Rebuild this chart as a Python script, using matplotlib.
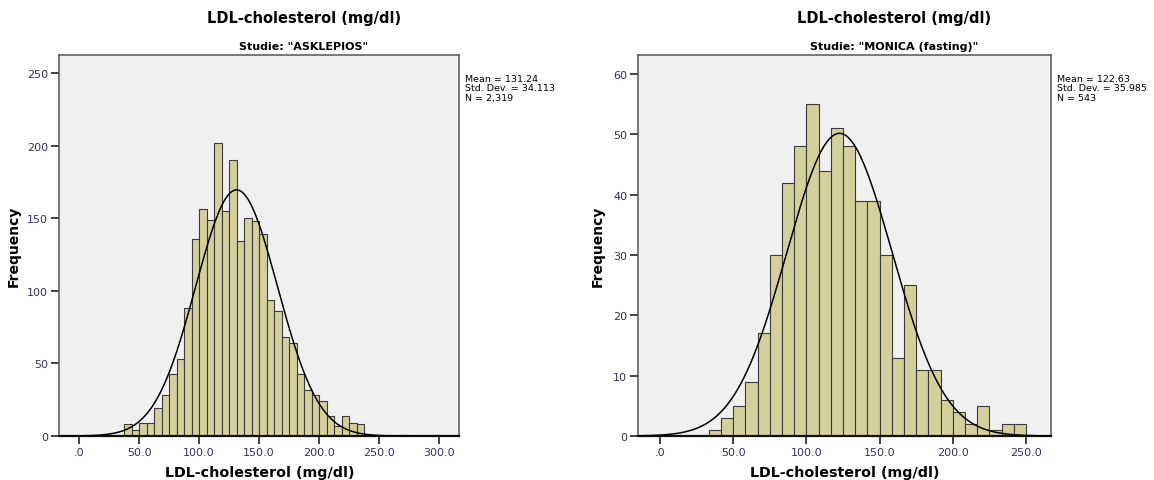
import numpy as np
import matplotlib
matplotlib.use("Agg")
import matplotlib.pyplot as plt

# ASKLEPIOS study
ask_start = 37.5
ask_width = 6.25
ask_counts = [8, 4, 9, 9, 19, 28, 43, 53, 88, 136, 156, 149, 202, 155, 190, 134,
              150, 148, 139, 94, 86, 68, 64, 43, 32, 28, 24, 14, 7, 14, 9, 8,
              0, 0, 0, 1, 0, 1, 0, 0, 0, 1]
ask_mean, ask_sd, ask_n = 131.24, 34.113, 2319

# MONICA (fasting) study
mon_start = 100 / 3
mon_width = 25 / 3
mon_counts = [1, 3, 5, 9, 17, 30, 42, 48, 55, 44, 51, 48, 39, 39, 30, 13,
              25, 11, 11, 6, 4, 2, 5, 1, 2, 2]
mon_mean, mon_sd, mon_n = 122.63, 35.985, 543

ask_xticks = [0, 50, 100, 150, 200, 250, 300]
mon_xticks = [0, 50, 100, 150, 200, 250]
ask_yticks = [0, 50, 100, 150, 200, 250]
mon_yticks = [0, 10, 20, 30, 40, 50, 60]

BAR = "#d4d09c"
TICKC = "#33334d"
W, H = 1154, 481


def fmt_x(v):
    return ".0" if v == 0 else f"{v:.1f}"


def panel(ax, start, width, counts, mean, sd, n, xticks, yticks, xlim, ylim,
          ylab_x):
    counts = np.array(counts, dtype=float)
    left = start + width * np.arange(len(counts))
    keep = counts > 0
    ax.bar(left[keep], counts[keep], width=width, align="edge",
           color=BAR, edgecolor="#3a3a3a", linewidth=0.8, zorder=2)
    xs = np.linspace(xlim[0], xlim[1], 400)
    pdf = np.exp(-0.5 * ((xs - mean) / sd) ** 2) / (sd * np.sqrt(2 * np.pi))
    ax.plot(xs, n * width * pdf, color="black", lw=1.1, zorder=3)

    ax.set_xlim(*xlim)
    ax.set_ylim(*ylim)
    ax.set_facecolor("#f0f0f0")
    ax.set_xticks(xticks)
    ax.set_xticklabels([fmt_x(v) for v in xticks])
    ax.set_yticks(yticks)
    ax.tick_params(direction="out", length=6, width=1.3, color="#333333",
                   labelsize=8, labelcolor=TICKC, pad=2)
    for s in ["top", "right", "left"]:
        ax.spines[s].set_color("#555555")
        ax.spines[s].set_linewidth(1.1)
    ax.spines["bottom"].set_color("#111111")
    ax.spines["bottom"].set_linewidth(1.6)
    ax.set_xlabel("LDL-cholesterol (mg/dl)", fontsize=10.3, fontweight="bold",
                  labelpad=6)
    ax.set_ylabel("Frequency", fontsize=10, fontweight="bold")
    ax.yaxis.set_label_coords(ylab_x, 0.5)

    txt = f"Mean = {mean:.2f}\nStd. Dev. = {sd:.3f}\nN = {n:,}"
    ax.annotate(txt, xy=(1, 1), xycoords="axes fraction",
                xytext=(6, -19), textcoords="offset pixels",
                ha="left", va="top", fontsize=6.8, linespacing=1.1)


fig = plt.figure(figsize=(W / 100, H / 100), dpi=100)
fig.patch.set_facecolor("white")

ax1 = fig.add_axes([59.3 / W, 44 / H, 400 / W, 381.3 / H])
ax2 = fig.add_axes([638.3 / W, 44 / H, 412.7 / W, 381.3 / H])

panel(ax1, ask_start, ask_width, ask_counts, ask_mean, ask_sd, ask_n,
      ask_xticks, ask_yticks, (-16.4, 316.7), (0, 262.6), -0.096)
panel(ax2, mon_start, mon_width, mon_counts, mon_mean, mon_sd, mon_n,
      mon_xticks, mon_yticks, (-14.8, 267.1), (0, 63.2), -0.081)

for cx, sub in [(304, 'Studie: "ASKLEPIOS"'), (894, 'Studie: "MONICA (fasting)"')]:
    fig.text(cx / W, 1 - 19 / H, "LDL-cholesterol (mg/dl)", ha="center",
             va="center", fontsize=10.5, fontweight="bold")
    fig.text(cx / W, 1 - 47 / H, sub, ha="center", va="center",
             fontsize=8, fontweight="bold")

fig.savefig("out.png", dpi=100)
